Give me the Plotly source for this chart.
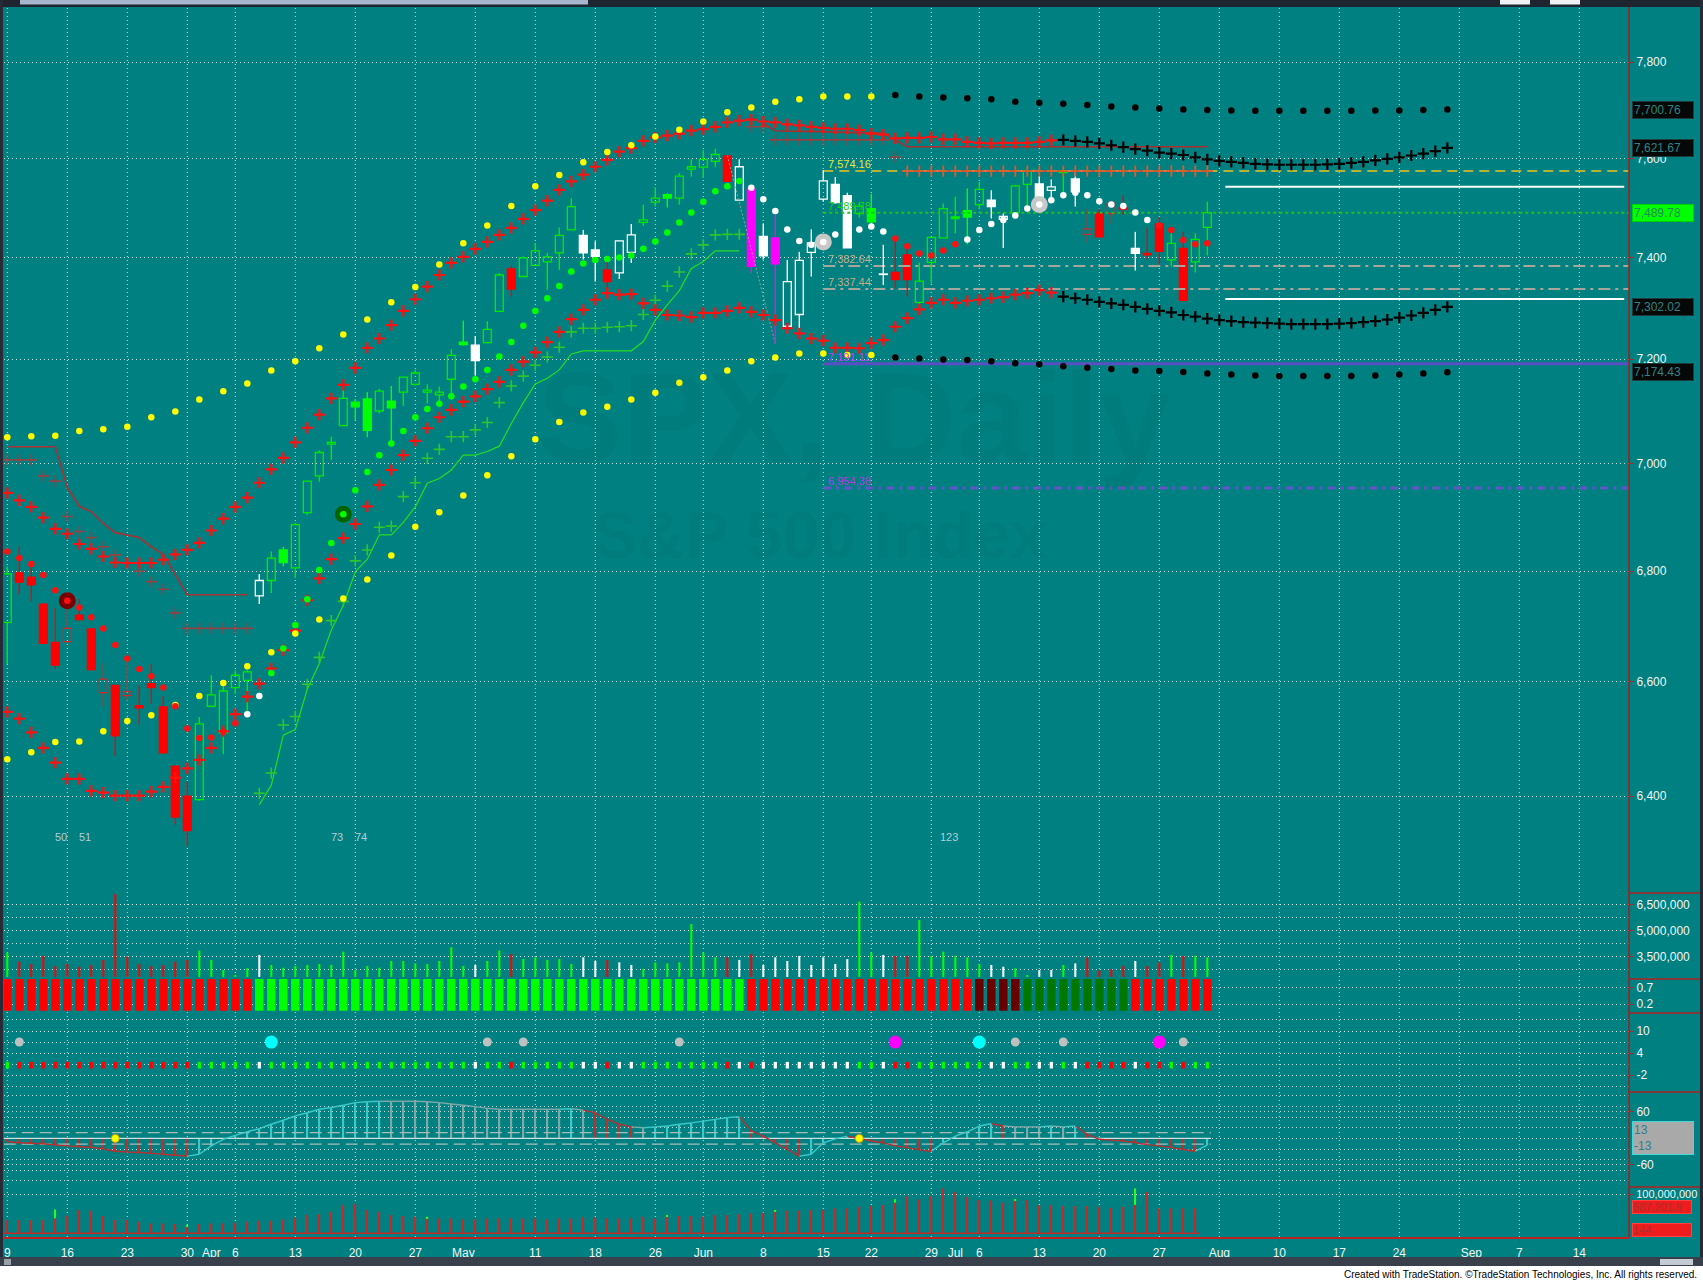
import math
import plotly.graph_objects as go

BG = '#008080'
GRID = 'rgba(225,238,238,0.85)'
GDASH = '1px,3px'
L = math.log10

# ---------------- time axis (trading-day index) ----------------
tick_idx = [0, 5, 10, 15, 17, 19, 24, 29, 34, 38, 44, 49, 54, 58, 63, 68, 72, 77, 79, 81,
            86, 91, 96, 101, 106, 111, 116, 122, 126, 131]
tick_txt = ['9', '16', '23', '30', 'Apr', '6', '13', '20', '27', 'May', '11', '18', '26', 'Jun',
            '8', '15', '22', '29', 'Jul', '6', '13', '20', '27', 'Aug', '10', '17', '24', 'Sep', '7', '14']
week_idx = [0, 5, 10, 15, 19, 24, 29, 34, 39, 44, 49, 54, 58, 63, 68, 72, 77, 81, 86, 91, 96,
            101, 106, 111, 116, 121, 126, 131]

# ---------------- price bars ----------------
opens = [6707, 6797, 6789, 6740, 6671, 6672, 6720, 6695, 6581, 6594,
         6576, 6558, 6597, 6556, 6452, 6400, 6394, 6557, 6510, 6590,
         6603, 6755, 6783, 6839, 6806, 6908, 6977, 7037, 7072, 7117,
         7123, 7100, 7119, 7136, 7151, 7136, 7131, 7161, 7233, 7227,
         7232, 7293, 7377, 7362, 7384, 7391, 7409, 7455, 7444, 7415,
         7375, 7369, 7410, 7470, 7511, 7526, 7519, 7578, 7582, 7594,
         7605, 7515, 7539, 7442, 7439, 7264, 7287, 7410, 7517, 7547,
         7524, 7488, 7498, 7367, 7370, 7405, 7311, 7390, 7439, 7478,
         7494, 7506, 7515, 7476, 7490, 7547, 7548, 7535, 7571, 7558,
         7446, 7488, 7488, 7500, 7418, 7408, 7467, 7395, 7418, 7391,
         7460]
highs = [6808, 6845, 6815, 6741, 6733, 6756, 6750, 6696, 6634, 6594,
         6641, 6594, 6632, 6575, 6452, 6426, 6538, 6612, 6603, 6621,
         6621, 6795, 6836, 6845, 6889, 6967, 7025, 7051, 7147, 7123,
         7136, 7142, 7148, 7166, 7179, 7151, 7147, 7219, 7275, 7245,
         7274, 7369, 7383, 7402, 7429, 7409, 7460, 7519, 7455, 7432,
         7396, 7433, 7467, 7506, 7541, 7529, 7570, 7598, 7617, 7620,
         7606, 7598, 7543, 7468, 7493, 7395, 7411, 7456, 7576, 7562,
         7530, 7510, 7528, 7425, 7442, 7426, 7390, 7440, 7508, 7522,
         7539, 7552, 7535, 7488, 7546, 7580, 7564, 7557, 7580, 7571,
         7498, 7498, 7515, 7525, 7451, 7460, 7481, 7451, 7451, 7448,
         7512]
lows = [6632, 6757, 6745, 6668, 6623, 6670, 6710, 6620, 6556, 6470,
        6567, 6525, 6561, 6473, 6351, 6315, 6392, 6557, 6473, 6579,
        6540, 6740, 6760, 6809, 6788, 6904, 6966, 7007, 7072, 7083,
        7050, 7095, 7034, 7110, 7149, 7115, 7110, 7122, 7226, 7168,
        7232, 7293, 7322, 7362, 7384, 7336, 7375, 7455, 7396, 7352,
        7330, 7357, 7389, 7463, 7502, 7500, 7506, 7563, 7560, 7582,
        7553, 7515, 7369, 7396, 7230, 7253, 7253, 7362, 7512, 7508,
        7419, 7480, 7458, 7345, 7339, 7322, 7294, 7348, 7439, 7448,
        7426, 7498, 7478, 7419, 7485, 7502, 7502, 7515, 7528, 7502,
        7429, 7440, 7467, 7485, 7374, 7396, 7385, 7382, 7313, 7370,
        7404]
closes = [6795, 6780, 6775, 6669, 6630, 6696, 6712, 6622, 6605, 6505,
          6583, 6554, 6590, 6475, 6364, 6341, 6526, 6577, 6584, 6612,
          6618, 6783, 6824, 6816, 6886, 6967, 7021, 7040, 7124, 7108,
          7063, 7138, 7106, 7165, 7173, 7140, 7136, 7207, 7228, 7197,
          7258, 7365, 7337, 7399, 7413, 7401, 7444, 7502, 7409, 7402,
          7352, 7433, 7445, 7475, 7519, 7519, 7564, 7583, 7598, 7608,
          7553, 7583, 7382, 7403, 7387, 7352, 7394, 7429, 7554, 7510,
          7419, 7503, 7471, 7366, 7356, 7356, 7353, 7440, 7498, 7481,
          7481, 7537, 7502, 7482, 7544, 7574, 7512, 7542, 7575, 7532,
          7457, 7441, 7509, 7497, 7408, 7405, 7412, 7428, 7315, 7436,
          7489.78]
# candle colour class: g=up, r=down, w=neutral, m=alert
candle_tone = ('g' + 'r' * 15 + 'g' * 5 + 'w' + 'g' * 17 + 'w' + 'gg' + 'r' + 'g' * 5 + 'ww' + 'r' + 'ww'
               + 'g' * 7 + 'r' + 'w' + 'm' + 'w' + 'm' + 'w' * 6 + 'gg' + 'w' + 'rr' + 'g' * 6 + 'ww' + 'gg'
               + 'ww' + 'g' + 'w' + 'rrrr' + 'w' + 'rr' + 'g' + 'r' + 'gg')

# ---------------- price-panel studies ----------------
upper_dots = {0: 7050, 2: 7052, 4: 7053, 6: 7062, 8: 7065, 10: 7070, 12: 7088, 14: 7099, 16: 7122,
              18: 7138, 20: 7153, 22: 7178, 24: 7196, 26: 7221, 28: 7248, 30: 7277, 32: 7311, 34: 7341,
              36: 7386, 38: 7428, 40: 7464, 42: 7503, 44: 7543, 46: 7566, 48: 7592, 50: 7613, 52: 7627,
              54: 7645, 56: 7659, 58: 7676, 60: 7695, 62: 7705, 64: 7717, 66: 7722, 68: 7728, 70: 7728,
              72: 7728}
upper_dots_proj = {74: 7731, 76: 7728, 78: 7726, 80: 7724, 82: 7722, 84: 7717, 86: 7715, 88: 7713,
                   90: 7710, 92: 7707, 94: 7705, 96: 7703, 98: 7701, 100: 7700, 102: 7699, 104: 7698,
                   106: 7698, 108: 7698, 110: 7698, 112: 7698, 114: 7699, 116: 7699, 118: 7700, 120: 7700.76}
lower_dots = {0: 6464, 2: 6476, 4: 6494, 6: 6495, 8: 6513, 10: 6531, 12: 6541, 14: 6559, 16: 6575,
              18: 6598, 20: 6628, 22: 6653, 24: 6687, 26: 6712, 28: 6750, 30: 6785, 32: 6829, 34: 6882,
              36: 6909, 38: 6940, 40: 6978, 42: 7014, 44: 7046, 46: 7079, 48: 7097, 50: 7108, 52: 7122,
              54: 7135, 56: 7154, 58: 7165, 60: 7178, 62: 7196, 64: 7203, 66: 7211, 68: 7211, 70: 7208,
              72: 7208}
lower_dots_proj = {74: 7203, 76: 7201, 78: 7199, 80: 7198, 82: 7196, 84: 7192, 86: 7190, 88: 7186,
                   90: 7183, 92: 7181, 94: 7178, 96: 7177, 98: 7175, 100: 7172, 102: 7170, 104: 7168,
                   106: 7167, 108: 7167, 110: 7167, 112: 7167, 114: 7168, 116: 7170, 118: 7172, 120: 7174.43}
upper_cross = [6945, 6931, 6919, 6899, 6878, 6869, 6850, 6841, 6827, 6816, 6815, 6815, 6815, 6821, 6831,
               6839, 6852, 6875, 6897, 6919, 6936, 6964, 6989, 7011, 7040, 7068, 7093, 7124, 7150, 7183,
               7222, 7240, 7266, 7294, 7317, 7342, 7365, 7389, 7401, 7417, 7431, 7445, 7459, 7477, 7495,
               7514, 7536, 7553, 7567, 7583, 7597, 7614, 7621, 7636, 7643, 7647, 7651, 7657, 7660, 7665,
               7674, 7678, 7680, 7676, 7674, 7670, 7668, 7665, 7663, 7661, 7661, 7658, 7651, 7649, 7641,
               7642, 7642, 7644, 7639, 7639, 7634, 7632, 7631, 7632, 7632, 7632, 7634, 7637]
upper_cross_proj = [7638, 7636, 7634, 7631, 7627, 7623, 7619, 7616, 7612, 7610, 7607, 7602, 7598, 7595,
                    7593, 7591, 7589, 7588, 7587, 7587, 7587, 7587, 7588, 7589, 7591, 7593, 7596, 7599,
                    7602, 7606, 7610, 7615, 7621.67]
lower_cross = [6547, 6535, 6511, 6484, 6458, 6430, 6430, 6409, 6406, 6401, 6401, 6401, 6408, 6416, 6432,
               6448, 6463, 6484, 6513, 6543, 6574, 6597, 6624, 6657, 6692, 6747, 6787, 6822, 6861, 6887,
               6920, 6960, 6988, 7016, 7043, 7067, 7088, 7102, 7118, 7128, 7142, 7156, 7179, 7195, 7213,
               7233, 7253, 7278, 7296, 7316, 7329, 7326, 7327, 7309, 7296, 7286, 7285, 7282, 7290, 7290,
               7294, 7300, 7292, 7286, 7276, 7260, 7250, 7240, 7236, 7222, 7222, 7221, 7231, 7237, 7263,
               7280, 7297, 7310, 7316, 7310, 7314, 7316, 7319, 7321, 7326, 7329, 7335, 7330]
lower_cross_proj = [7322, 7319, 7316, 7312, 7309, 7306, 7302, 7298, 7294, 7291, 7286, 7283, 7279, 7276,
                    7274, 7272, 7271, 7270, 7269, 7268, 7268, 7268, 7268, 7269, 7270, 7272, 7274, 7277,
                    7281, 7285, 7290, 7296, 7302.02]
stop_vals = [6836, 6824, 6813, 6793, 6765, 6746, 6734, 6716, 6696, 6666, 6642, 6623, 6610, 6590, 6557,
             6518, 6501, 6502, 6512, 6527, 6543, 6575, 6616, 6660, 6702, 6749, 6802, 6852, 6905, 6950,
             6984, 7016, 7038, 7062, 7088, 7104, 7114, 7128, 7147, 7161, 7179, 7205, 7233, 7265, 7294,
             7319, 7343, 7372, 7388, 7395, 7397, 7400, 7404, 7417, 7432, 7450, 7470, 7490, 7512, 7533,
             7543, 7554, 7540, 7517, 7493, 7456, 7433, 7425, 7431, 7446, 7452, 7456, 7462, 7452, 7438,
             7422, 7408, 7404, 7414, 7426, 7436, 7455, 7467, 7475, 7484, 7498, 7506, 7515, 7525, 7530,
             7525, 7513, 7506, 7503, 7490, 7475, 7464, 7455, 7435, 7426, 7428]
stop_state = 'd' * 20 + 'n' * 2 + 'u' * 40 + 'n' * 12 + 'd' * 6 + 'n' * 16 + 'd' * 5
big_marks = {5: ('sell', 6746), 28: ('buy', 6905), 68: ('flat', 7431), 86: ('flat', 7506)}
green_cross = {21: 6405, 22: 6440, 23: 6524, 24: 6539, 25: 6596, 26: 6644, 27: 6710, 28: 6745,
               29: 6819, 30: 6839, 31: 6881, 32: 6883, 33: 6938, 34: 6964, 35: 7010, 36: 7027,
               37: 7051, 38: 7051, 39: 7064, 40: 7078, 41: 7116, 42: 7148, 43: 7167, 44: 7188,
               45: 7204, 46: 7223, 47: 7253, 48: 7260, 49: 7260, 50: 7262, 51: 7263, 52: 7265,
               53: 7287, 54: 7315, 55: 7343, 56: 7371, 57: 7407, 58: 7425, 59: 7445, 60: 7446, 61: 7446}
green_trail = {21: 6385, 22: 6419, 23: 6506, 24: 6516, 25: 6587, 26: 6633, 27: 6693, 28: 6738,
               29: 6799, 30: 6822, 31: 6867, 32: 6867, 33: 6890, 34: 6919, 35: 6963, 36: 6972,
               37: 6988, 38: 7016, 39: 7016, 40: 7023, 41: 7033, 42: 7076, 43: 7116, 44: 7152,
               45: 7163, 46: 7179, 47: 7210, 48: 7216, 49: 7216, 50: 7216, 51: 7216, 52: 7216,
               53: 7234, 54: 7276, 55: 7306, 56: 7334, 57: 7378, 58: 7392, 59: 7413, 60: 7413, 61: 7413}
red_trail_left = [7032, 7032, 7032, 7032, 7032, 6955, 6920, 6910, 6888, 6871, 6866, 6862, 6845,
                  6831, 6793, 6757, 6757, 6757, 6757, 6757, 6757]
dim_cross_left = [7007, 7007, 7007, 6977, 6967, 6901, 6873, 6862, 6845, 6830, 6815, 6800, 6781,
                  6767, 6724, 6696, 6696, 6696, 6696, 6696, 6696]
red_trail_top = {63: 7672, 64: 7657, 65: 7656, 66: 7656, 67: 7655, 68: 7655, 69: 7654, 70: 7653,
                 71: 7653, 72: 7652, 73: 7652, 74: 7638, 75: 7624, 100: 7624}
dim_cross_top = {62: 7665, 63: 7665, 64: 7638, 65: 7638, 66: 7638, 67: 7638, 68: 7638, 69: 7638,
                 70: 7638, 71: 7638, 72: 7638, 73: 7638, 74: 7603}
swing_idx = [60, 64]
swing_val = [7606, 7230]

levels = [7574.16, 7489.78, 7382.64, 7337.44, 7191.11, 6954.38]
level_start = 68
level_cross_bars = list(range(75, 101))
proj_lines = [7542.0, 7317.5]
proj_start = 101.5
bar_counts = {4: '50', 6: '51', 27: '73', 29: '74', 78: '123'}
tags_black = [7700.76, 7621.67, 7302.02, 7174.43]
tag_last = 7489.78

# ---------------- lower panels ----------------
vol_m = [3.75, 3.23, 3.10, 3.56, 2.98, 3.10, 2.94, 3.04, 3.33, 7.13,
         3.52, 3.10, 2.98, 3.04, 3.23, 3.33, 3.87, 3.33, 2.75, 2.46,
         2.85, 3.62, 3.04, 2.88, 2.98, 3.04, 3.10, 3.04, 3.81, 2.75,
         2.98, 2.88, 3.27, 3.27, 3.13, 3.10, 3.27, 4.06, 2.98, 3.04,
         3.27, 3.87, 3.67, 3.38, 3.48, 3.33, 3.38, 3.10, 3.48, 3.27,
         3.33, 3.19, 3.04, 2.81, 3.19, 3.13, 3.19, 5.40, 3.75, 3.48,
         3.48, 3.33, 3.67, 3.04, 3.48, 3.27, 3.56, 3.04, 3.48, 3.10,
         3.38, 6.69, 3.75, 3.62, 3.56, 3.56, 5.63, 3.56, 3.81, 3.56,
         3.48, 3.08, 3.04, 2.94, 2.85, 2.46, 2.75, 2.75, 3.04, 3.13,
         3.46, 2.71, 2.79, 2.98, 3.27, 2.98, 3.17, 3.62, 3.56, 3.56,
         3.48]
bar_tone = ('g' + 'r' * 15 + 'g' * 5 + 'w' + 'g' * 17 + 'w' + 'gg' + 'r' + 'g' * 5 + 'ww' + 'r' + 'ww'
            + 'g' * 7 + 'r' + 'w' + 'r' + 'w' * 8 + 'gg' + 'w' + 'rr' + 'g' * 6 + 'ww' + 'gg'
            + 'ww' + 'g' + 'w' + 'rrrr' + 'w' + 'rr' + 'g' + 'r' + 'gg')
trend_block = 'r' * 21 + 'G' * 41 + 'r' * 19 + 'd' * 4 + 'k' * 9 + 'r' * 7
signal_bars = {1: 'n', 22: 'bull', 40: 'n', 43: 'n', 56: 'n', 74: 'bear', 81: 'bull', 84: 'n',
               88: 'n', 96: 'bear', 98: 'n'}
osc = [-7, -10, -11, -12, -15, -17, -19, -20, -24, -29, -31, -32, -34, -36, -38, -40, -36, -17, -2, 7,
       15, 22, 32, 41, 51, 58, 66, 70, 75, 81, 83, 84, 84, 84, 84, 83, 81, 78, 75, 72,
       68, 66, 66, 66, 66, 66, 66, 67, 64, 58, 43, 32, 26, 24, 26, 28, 32, 35, 39, 43,
       47, 49, 17, 5, -10, -25, -40, -36, -10, -1, 5, 0, -6, -10, -17, -21, -26, -29, -10, 5,
       15, 28, 33, 28, 26, 26, 26, 28, 26, 28, 9, -2, -4, -6, -10, -14, -17, -21, -25, -29,
       -15]
osc_levels = [13, -13]
osc_marks = [9, 71]
flow_m = [39.5, 39.5, 38.8, 39.5, 43.4, 49.6, 62.8, 61.2, 48.8, 39.5,
          39.5, 35.6, 31.8, 31.8, 30.2, 24.0, 30.2, 31.8, 31.8, 33.3,
          35.6, 38.0, 38.0, 41.2, 45.0, 51.2, 53.0, 58.9, 74.4, 76.8,
          62.8, 58.9, 51.2, 48.8, 47.3, 43.4, 43.4, 43.4, 41.1, 41.1,
          43.4, 43.4, 43.4, 43.4, 43.4, 41.1, 43.4, 43.4, 45.8, 45.8,
          43.4, 43.4, 43.4, 47.3, 43.4, 47.3, 49.0, 49.0, 47.3, 51.2,
          51.2, 53.5, 55.0, 56.6, 58.9, 61.2, 61.2, 62.8, 62.8, 66.7,
          66.7, 70.6, 72.1, 74.4, 79.8, 95.0, 87.7, 95.0, 113.0, 105.0,
          93.7, 86.0, 85.0, 80.0, 85.0, 86.0, 74.4, 74.4, 72.0, 72.0,
          72.0, 70.0, 68.0, 70.0, 74.4, 105.0, 66.7, 66.7, 66.7, 66.7]
flow_green = {4: 64, 15: 27, 35: 47, 55: 50, 64: 61, 74: 88, 84: 88, 94: 113}
flow_base = 8.6

# ---------------- build figure ----------------
n = len(closes)
idx = list(range(n))
X_RANGE = [-0.275, 135.14]
fig = go.Figure()
NOHOV = dict(hoverinfo='skip', showlegend=False)


def dict_xy(d):
    ks = sorted(d)
    return ks, [d[k] for k in ks]


shapes = []
for w in week_idx:
    shapes.append(dict(type='line', xref='x', yref='paper', x0=w, x1=w, y0=0, y1=1,
                       line=dict(color=GRID, width=1, dash=GDASH), layer='below'))

lvl_style = {
    7574.16: dict(color='#b3b33c', width=2, dash='10px,6px'),
    7489.78: dict(color='#1fc01f', width=2, dash='3px,3px'),
    7382.64: dict(color='#a6a69a', width=2, dash='12px,5px,3px,5px'),
    7337.44: dict(color='#a6a69a', width=2, dash='12px,5px,3px,5px'),
    7191.11: dict(color='#5b4fc6', width=3),
    6954.38: dict(color='#6355c8', width=3, dash='8px,5px,3px,5px'),
}
lvl_text_col = {7574.16: '#e6e640', 7489.78: '#14d214', 7382.64: '#c8aa86', 7337.44: '#c8aa86',
                7191.11: '#c23cff', 6954.38: '#b43ce6'}
for v in levels:
    fig.add_trace(go.Scatter(x=[level_start, X_RANGE[1]], y=[v, v], mode='lines',
                             line=lvl_style[v], yaxis='y', **NOHOV))
for v in proj_lines:
    fig.add_trace(go.Scatter(x=[proj_start, X_RANGE[1] - 0.4], y=[v, v], mode='lines',
                             line=dict(color='#ffffff', width=2), yaxis='y', **NOHOV))

fig.add_trace(go.Scatter(x=list(range(len(red_trail_left))), y=red_trail_left, mode='lines',
                         line=dict(color='#a83232', width=1.6), **NOHOV))
tx, ty = dict_xy(red_trail_top)
fig.add_trace(go.Scatter(x=tx, y=ty, mode='lines', line=dict(color='#b02c2c', width=1.6), **NOHOV))
gx, gy = dict_xy(green_trail)
fig.add_trace(go.Scatter(x=gx, y=gy, mode='lines', line=dict(color='#22dd22', width=1.2), **NOHOV))
fig.add_trace(go.Scatter(x=swing_idx, y=swing_val, mode='lines',
                         line=dict(color='#9aa0a0', width=1, dash='2px,2px'), **NOHOV))

tone_fill = {'g': '#00ff00', 'r': '#ff0000', 'w': '#ffffff', 'm': '#ff00ff'}
tone_hollow = {'g': '#00ea00', 'r': '#d42828', 'w': '#ffffff', 'm': '#ff00ff'}
wick_groups = {}
for i in idx:
    t = candle_tone[i]
    hollow = closes[i] > opens[i]
    col = tone_hollow[t] if hollow else tone_fill[t]
    top, bot = max(opens[i], closes[i]), min(opens[i], closes[i])
    xs, ys = wick_groups.setdefault(col, ([], []))
    xs += [i, i, None, i, i, None]
    ys += [highs[i], top, None, bot, lows[i], None]
for col, (xs, ys) in wick_groups.items():
    fig.add_trace(go.Scatter(x=xs, y=ys, mode='lines', line=dict(color=col, width=1.4), **NOHOV))

body_base, body_len, body_fill, body_edge = [], [], [], []
for i in idx:
    t = candle_tone[i]
    hollow = closes[i] > opens[i]
    body_base.append(min(opens[i], closes[i]))
    body_len.append(max(abs(closes[i] - opens[i]), 0.7))
    body_fill.append('rgba(0,0,0,0)' if hollow else tone_fill[t])
    body_edge.append(tone_hollow[t] if hollow else tone_fill[t])
fig.add_trace(go.Bar(x=idx, y=body_len, base=body_base, width=0.66,
                     marker=dict(color=body_fill, line=dict(color=body_edge, width=1.3)),
                     yaxis='y', **NOHOV))


def cross_trace(xs, ys, col, size=8, lw=2.2):
    return go.Scatter(x=xs, y=ys, mode='markers',
                      marker=dict(symbol='cross-thin', size=size, line=dict(color=col, width=lw)),
                      **NOHOV)


def dot_trace(xs, ys, col, size=6.5):
    return go.Scatter(x=xs, y=ys, mode='markers',
                      marker=dict(symbol='circle', size=size, color=col, line=dict(width=0)), **NOHOV)


fig.add_trace(cross_trace(list(range(len(dim_cross_left))), dim_cross_left, 'rgba(200,45,45,0.75)', 8, 1.6))
dx, dy = dict_xy(dim_cross_top)
fig.add_trace(cross_trace(dx, dy, 'rgba(200,45,45,0.75)', 8, 1.6))
fig.add_trace(cross_trace(level_cross_bars, [levels[0]] * len(level_cross_bars), '#dc5a2c', 8, 1.8))
cx, cy = dict_xy(green_cross)
fig.add_trace(cross_trace(cx, cy, '#2fc42f', 8, 1.6))

nu = len(upper_cross)
fig.add_trace(cross_trace(list(range(nu)), upper_cross, '#ff1010'))
fig.add_trace(cross_trace(list(range(nu, nu + len(upper_cross_proj))), upper_cross_proj, '#000000'))
nl = len(lower_cross)
fig.add_trace(cross_trace(list(range(nl)), lower_cross, '#ff1010'))
fig.add_trace(cross_trace(list(range(nl, nl + len(lower_cross_proj))), lower_cross_proj, '#000000'))

for d, col in [(upper_dots, '#ffff00'), (lower_dots, '#ffff00'),
               (upper_dots_proj, '#000000'), (lower_dots_proj, '#000000')]:
    x_, y_ = dict_xy(d)
    fig.add_trace(dot_trace(x_, y_, col))

big_col = {'sell': ('#7a0000', '#ff1010'), 'buy': ('#006400', '#00ff00'), 'flat': ('#c8c8c8', '#ffffff')}
for i, (kind, v) in big_marks.items():
    outer, inner = big_col[kind]
    fig.add_trace(dot_trace([i], [v], outer, 17))
    fig.add_trace(dot_trace([i], [v], inner, 6.5))

stop_col = {'d': '#ff1010', 'n': '#ffffff', 'u': '#00ff00'}
for s, col in stop_col.items():
    xs = [i for i in idx if stop_state[i] == s and i not in big_marks]
    fig.add_trace(dot_trace(xs, [stop_vals[i] for i in xs], col))

# ---------------- lower panels ----------------
tone_col = {'g': '#00ff00', 'r': '#ff0000', 'w': '#ffffff'}
VOL_BASE = 2.35
fig.add_trace(go.Bar(x=idx, y=[v - VOL_BASE for v in vol_m], base=VOL_BASE, width=0.17,
                     marker=dict(color=[tone_col[t] for t in bar_tone], line=dict(width=0)),
                     yaxis='y2', **NOHOV))

block_col = {'r': '#ff0000', 'G': '#00ff00', 'd': '#6a0000', 'k': '#007800'}
fig.add_trace(go.Bar(x=idx, y=[1.0] * n, base=-0.01, width=0.7,
                     marker=dict(color=[block_col[t] for t in trend_block], line=dict(width=0)),
                     yaxis='y3', **NOHOV))

fig.add_trace(go.Bar(x=idx, y=[1.8] * n, base=-0.2, width=0.27,
                     marker=dict(color=[tone_col[t] for t in bar_tone], line=dict(width=0)),
                     yaxis='y4', **NOHOV))
sig_style = {'n': ('#c0c0c0', 9), 'bull': ('#00ffff', 13), 'bear': ('#ff00ff', 13)}
for kind, (col, sz) in sig_style.items():
    xs = [i for i, k in signal_bars.items() if k == kind]
    fig.add_trace(go.Scatter(x=xs, y=[7] * len(xs), mode='markers', yaxis='y4',
                             marker=dict(color=col, size=sz, line=dict(width=0)), **NOHOV))

osc_col = []
for i in idx:
    prev = osc[i - 1] if i > 0 else osc[i]
    if osc[i] > prev:
        osc_col.append('#3cc8c8')
    elif osc[i] < 0 or prev - osc[i] > 4:
        osc_col.append('#b83030')
    else:
        osc_col.append('#7fa8a8')
for v in osc_levels:
    fig.add_trace(go.Scatter(x=[idx[0] - 0.3, idx[-1] + 0.3], y=[v, v], mode='lines', yaxis='y5',
                             line=dict(color='#a8bcbc', width=1.2, dash='12px,6px'), **NOHOV))
fig.add_trace(go.Scatter(x=[idx[0] - 0.3, idx[-1] + 0.3], y=[0, 0], mode='lines', yaxis='y5',
                         line=dict(color='#cfe0e0', width=1.2), **NOHOV))
fig.add_trace(go.Bar(x=idx, y=osc, base=0, width=0.14, yaxis='y5',
                     marker=dict(color=osc_col, line=dict(width=0)), **NOHOV))
seg = {}
for i in idx[1:]:
    xs, ys = seg.setdefault(osc_col[i], ([], []))
    xs += [i - 1, i, None]
    ys += [osc[i - 1], osc[i], None]
for col, (xs, ys) in seg.items():
    fig.add_trace(go.Scatter(x=xs, y=ys, mode='lines', yaxis='y5', line=dict(color=col, width=1.4),
                             **NOHOV))
fig.add_trace(go.Scatter(x=osc_marks, y=[0] * len(osc_marks), mode='markers', yaxis='y5',
                         marker=dict(color='#ffff00', size=8, line=dict(color='#c8a000', width=1)),
                         **NOHOV))

fx = list(range(len(flow_m)))
fig.add_trace(go.Scatter(x=[fx[0] - 0.3, fx[-1] + 0.3], y=[flow_base, flow_base], mode='lines',
                         yaxis='y6', line=dict(color='#c02828', width=1.5), **NOHOV))
fig.add_trace(go.Bar(x=fx, y=[v - flow_base for v in flow_m], base=flow_base, width=0.13, yaxis='y6',
                     marker=dict(color='#c42a2a', line=dict(width=0)), **NOHOV))
gx2, gy2 = dict_xy(flow_green)
fig.add_trace(go.Bar(x=gx2, y=[g - flow_m[i] for i, g in zip(gx2, gy2)], base=[flow_m[i] for i in gx2],
                     width=0.13, yaxis='y6', marker=dict(color='#20ff20', line=dict(width=0)), **NOHOV))

# ---------------- layout ----------------
PLOT_T, PLOT_B = 7, 1237
PLOT_L, PLOT_R = 4, 1629


def py(y_px):
    return (PLOT_B - y_px) / (PLOT_B - PLOT_T)


def px(x_px):
    return (x_px - PLOT_L) / (PLOT_R - PLOT_L)


tfont = dict(family='Liberation Sans, Arial, sans-serif', size=12, color='#f2f4f4')
axis_common = dict(anchor='x', side='right', zeroline=False, showline=False, ticks='outside',
                   ticklen=4, tickcolor='#c02020', fixedrange=True,
                   showgrid=True, gridcolor=GRID, griddash=GDASH, gridwidth=1)
price_ticks = [6400, 6600, 6800, 7000, 7200, 7400, 7600, 7800]


def minor(d, t0):
    return dict(dtick=d, tick0=t0, showgrid=True, gridcolor=GRID, griddash=GDASH, ticklen=0)


fig.update_layout(
    width=1703, height=1282, margin=dict(l=PLOT_L, r=1703 - PLOT_R, t=PLOT_T, b=1282 - PLOT_B),
    paper_bgcolor=BG, plot_bgcolor=BG, showlegend=False, barmode='overlay',
    font=dict(family='Liberation Sans, Arial, sans-serif', size=12, color='#f2f4f4'),
    xaxis=dict(domain=[0, 1], range=X_RANGE, anchor='y6', showgrid=False, zeroline=False,
               showline=True, linecolor='#c02020', linewidth=1.5, ticks='outside', ticklen=4,
               tickcolor='#c02020', tickvals=tick_idx, ticktext=tick_txt, tickfont=tfont,
               fixedrange=True),
    yaxis=dict(domain=[py(893), 1], type='log', range=[L(6235.2), L(7916.5)], tickfont=tfont,
               tickvals=price_ticks, ticktext=[f'{v:,}' for v in price_ticks], **axis_common),
    yaxis2=dict(domain=[py(979), py(893)], range=[2.23, 7.19], tickvals=[3.5, 5.0, 6.5], tickfont=tfont,
                ticktext=['3,500,000', '5,000,000', '6,500,000'], minor=minor(0.75, 0.5), **axis_common),
    yaxis3=dict(domain=[py(1013), py(979)], range=[-0.08, 0.98], tickvals=[0.2, 0.7], tickfont=tfont,
                ticktext=['0.2', '0.7'], **axis_common),
    yaxis4=dict(domain=[py(1092), py(1013)], range=[-6.6, 14.9], tickvals=[-2, 4, 10], tickfont=tfont,
                ticktext=['-2', '4', '10'], minor=minor(3, 1), **axis_common),
    yaxis5=dict(domain=[py(1187), py(1092)], range=[-110, 105], tickvals=[-60, 60], tickfont=tfont,
                ticktext=['-60', '60'], minor=minor(24, 0), **axis_common),
    yaxis6=dict(domain=[0, py(1187)], range=[0, 116.3], tickvals=[100], ticktext=['100,000,000'],
                tickfont=dict(family='Liberation Sans, Arial, sans-serif', size=11, color='#f2f4f4'),
                **axis_common),
)

XL, XR = px(0), px(1703)
shapes += [
    dict(type='rect', xref='paper', yref='paper', x0=XL, x1=XR, y0=py(7), y1=py(0),
         fillcolor='#1e2430', line=dict(width=0)),
    dict(type='rect', xref='paper', yref='paper', x0=px(20), x1=px(588), y0=py(4.5), y1=py(0),
         fillcolor='#a7b6cf', line=dict(width=0)),
    dict(type='rect', xref='paper', yref='paper', x0=px(1500), x1=px(1530), y0=py(4.5), y1=py(0),
         fillcolor='#eef0f4', line=dict(width=0)),
    dict(type='rect', xref='paper', yref='paper', x0=px(1550), x1=px(1580), y0=py(4.5), y1=py(0),
         fillcolor='#eef0f4', line=dict(width=0)),
    dict(type='rect', xref='paper', yref='paper', x0=XL, x1=px(3), y0=py(1266), y1=py(0),
         fillcolor='#262b36', line=dict(width=0)),
    dict(type='rect', xref='paper', yref='paper', x0=px(1700), x1=XR, y0=py(1266), y1=py(0),
         fillcolor='#262b36', line=dict(width=0)),
    dict(type='rect', xref='paper', yref='paper', x0=XL, x1=XR, y0=py(1266), y1=py(1257),
         fillcolor='#3a404b', line=dict(width=0)),
    dict(type='rect', xref='paper', yref='paper', x0=px(1660), x1=px(1693), y0=py(1265), y1=py(1259),
         fillcolor='#c4cbd4', line=dict(width=0)),
    dict(type='rect', xref='paper', yref='paper', x0=px(4), x1=px(11), y0=py(1265), y1=py(1259),
         fillcolor='#9aa0a8', line=dict(width=0)),
    dict(type='rect', xref='paper', yref='paper', x0=XL, x1=XR, y0=py(1282), y1=py(1266),
         fillcolor='#ffffff', line=dict(width=0)),
    dict(type='line', xref='paper', yref='paper', x0=1, x1=1, y0=0, y1=1,
         line=dict(color='#9c2020', width=1.5)),
]
for yb in [893, 979, 1013, 1092, 1187]:
    shapes.append(dict(type='line', xref='paper', yref='paper', x0=1, x1=px(1700), y0=py(yb), y1=py(yb),
                       line=dict(color='#b02020', width=1.5)))
fig.update_layout(shapes=shapes)

ann = []
ann.append(dict(x=70.5, y=L(7087), xref='x', yref='y', text='<b>SPX, Daily</b>', showarrow=False,
                font=dict(family='Liberation Sans, Arial', size=128, color='rgba(20,50,50,0.055)')))
ann.append(dict(x=67.7, y=L(6867), xref='x', yref='y', text='<b>S&amp;P 500 Index</b>', showarrow=False,
                font=dict(family='Liberation Sans, Arial', size=66, color='rgba(20,50,50,0.055)')))
for v in levels:
    ann.append(dict(x=level_start + 0.2, y=L(v), xref='x', yref='y', text=f'{v:,.2f}', showarrow=False,
                    xanchor='left', yanchor='bottom', yshift=-1,
                    font=dict(size=11, color=lvl_text_col[v])))
for i, t in bar_counts.items():
    ann.append(dict(x=i + 0.5, y=L(6330), xref='x', yref='y', text=t, showarrow=False,
                    font=dict(size=11, color='#b4ccd8')))
TAGX = px(1632)
for v in tags_black:
    ann.append(dict(x=TAGX, y=L(v), xref='paper', yref='y', text=f'{v:,.2f}', showarrow=False,
                    xanchor='left', align='left', width=58, bgcolor='#060808', bordercolor='#1d3b3b',
                    borderwidth=1, borderpad=1, font=dict(size=12, color='#2f8585')))
ann.append(dict(x=TAGX, y=L(tag_last), xref='paper', yref='y', text=f'{tag_last:,.2f}', showarrow=False,
                xanchor='left', align='left', width=58, bgcolor='#00ff00', bordercolor='#00d000',
                borderwidth=1, borderpad=1, font=dict(size=12, color='#1f8a5a')))
ann.append(dict(x=TAGX, y=0, xref='paper', yref='y5', text='13<br>-13', showarrow=False,
                xanchor='left', align='left', width=58, bgcolor='#a9a9a9', bordercolor='#40d8d8',
                borderwidth=1, borderpad=1, font=dict(size=12, color='#2c7f8f')))
ann.append(dict(x=TAGX, y=70, xref='paper', yref='y6', text='587,201.9', showarrow=False,
                xanchor='left', align='left', width=58, bgcolor='#ee1c1c', bordercolor='#ff4040',
                borderwidth=1, borderpad=0, font=dict(size=11, color='#a83030')))
ann.append(dict(x=TAGX, y=16, xref='paper', yref='y6', text='144', showarrow=False,
                xanchor='left', align='left', width=58, bgcolor='#ee1c1c', bordercolor='#ff4040',
                borderwidth=1, borderpad=0, font=dict(size=11, color='#a83030')))
ann.append(dict(x=px(1699), y=py(1274), xref='paper', yref='paper', xanchor='right', yanchor='middle',
                text='Created with TradeStation. ©TradeStation Technologies, Inc. All rights reserved.',
                showarrow=False,
                font=dict(family='Liberation Sans, Arial', size=10, color='#000000')))
fig.update_layout(annotations=ann)

fig.write_html("out.html", config={'displayModeBar': False},
               post_script="document.body.style.margin='0';document.body.style.overflow='hidden';")
